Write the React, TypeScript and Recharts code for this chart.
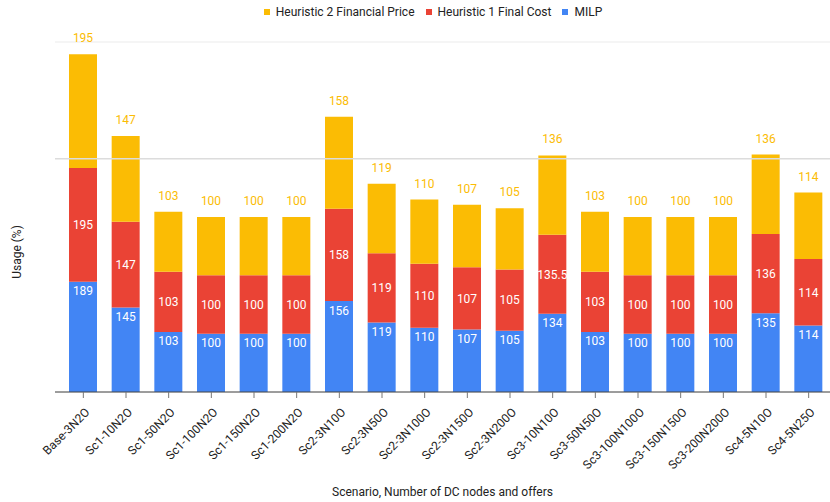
import { Bar, BarChart, CartesianGrid, LabelList, ReferenceLine, XAxis, YAxis, Label } from "recharts";

const scenarios = [
  "Base-3N2O",
  "Sc1-10N2O",
  "Sc1-50N2O",
  "Sc1-100N2O",
  "Sc1-150N2O",
  "Sc1-200N2O",
  "Sc2-3N10O",
  "Sc2-3N50O",
  "Sc2-3N100O",
  "Sc2-3N150O",
  "Sc2-3N200O",
  "Sc3-10N10O",
  "Sc3-50N50O",
  "Sc3-100N100O",
  "Sc3-150N150O",
  "Sc3-200N200O",
  "Sc4-5N10O",
  "Sc4-5N25O",
];

const milp = [189, 145, 103, 100, 100, 100, 156, 119, 110, 107, 105, 134, 103, 100, 100, 100, 135, 114];
const heuristic1 = [195, 147, 103, 100, 100, 100, 158, 119, 110, 107, 105, 135.5, 103, 100, 100, 100, 136, 114];
const heuristic2 = [195, 147, 103, 100, 100, 100, 158, 119, 110, 107, 105, 136, 103, 100, 100, 100, 136, 114];

const yTicks = [0, 66.67, 133.33, 200, 266.67, 333.33, 400, 466.67, 533.33, 600];

const BLUE = "#4285F4";
const RED = "#EA4335";
const YELLOW = "#FBBC04";
const FONT = "Roboto, Arial, sans-serif";

const data = scenarios.map((name, i) => ({
  name,
  milp: milp[i],
  h1: heuristic1[i],
  h2: heuristic2[i],
}));

const legendItems = [
  { label: "Heuristic 2 Financial Price", color: YELLOW },
  { label: "Heuristic 1 Final Cost", color: RED },
  { label: "MILP", color: BLUE },
];

function ScenarioTick(props: any) {
  const { x, y, payload } = props;
  return (
    <g transform={`translate(${x + 4},${y + 10}) rotate(-45)`}>
      <text textAnchor="end" dy="0.35em" fontSize={12} fill="#222" fontFamily={FONT}>
        {payload.value}
      </text>
    </g>
  );
}

export default function App() {
  return (
    <div style={{ position: "absolute", left: 0, top: 0, width: 830, height: 502, background: "#fff", fontFamily: FONT }}>
      <div
        style={{
          position: "absolute",
          top: 5,
          left: 18,
          width: 830,
          display: "flex",
          justifyContent: "center",
          gap: 11,
          fontSize: 12,
          color: "#222",
          zIndex: 2,
        }}
      >
        {legendItems.map((item) => (
          <div key={item.label} style={{ display: "flex", alignItems: "center", gap: 6 }}>
            <span style={{ width: 6, height: 6, background: item.color, display: "inline-block" }} />
            <span>{item.label}</span>
          </div>
        ))}
      </div>
      <BarChart width={830} height={502} data={data} margin={{ top: 42, right: 0, left: 0, bottom: 0 }}>
        <CartesianGrid vertical={false} stroke="#ebebeb" />
        <ReferenceLine y={400} stroke="#dcdcdc" strokeWidth={1.5} />
        <XAxis
          dataKey="name"
          interval={0}
          height={110}
          padding={{ left: 7, right: 0 }}
          tick={<ScenarioTick />}
          tickLine={{ stroke: "#777" }}
          tickSize={6}
          axisLine={{ stroke: "#444" }}
        >
          <Label
            value="Scenario, Number of DC nodes and offers"
            position="insideBottom"
            offset={6}
            fontSize={12}
            fill="#222"
            fontFamily={FONT}
          />
        </XAxis>
        <YAxis
          width={55}
          domain={[0, 600]}
          ticks={yTicks}
          tick={false}
          tickLine={false}
          axisLine={false}
        >
          <Label
            content={({ viewBox }: any) => {
              const cx = 17;
              const cy = viewBox.y + viewBox.height / 2 + 35;
              return (
                <text
                  x={cx}
                  y={cy}
                  transform={`rotate(-90, ${cx}, ${cy})`}
                  textAnchor="middle"
                  dominantBaseline="central"
                  fontSize={12}
                  fill="#222"
                  fontFamily={FONT}
                >
                  Usage (%)
                </text>
              );
            }}
          />
        </YAxis>
        <Bar dataKey="milp" stackId="a" fill={BLUE} barSize={28} isAnimationActive={false}>
          <LabelList dataKey="milp" position="insideTop" offset={5} fill="#fff" fontSize={12} fontFamily={FONT} />
        </Bar>
        <Bar dataKey="h1" stackId="a" fill={RED} barSize={28} isAnimationActive={false}>
          <LabelList dataKey="h1" position="center" fill="#fff" fontSize={12} fontFamily={FONT} />
        </Bar>
        <Bar dataKey="h2" stackId="a" fill={YELLOW} barSize={28} isAnimationActive={false}>
          <LabelList dataKey="h2" position="top" offset={12} fill={YELLOW} fontSize={12} fontFamily={FONT} />
        </Bar>
      </BarChart>
    </div>
  );
}
